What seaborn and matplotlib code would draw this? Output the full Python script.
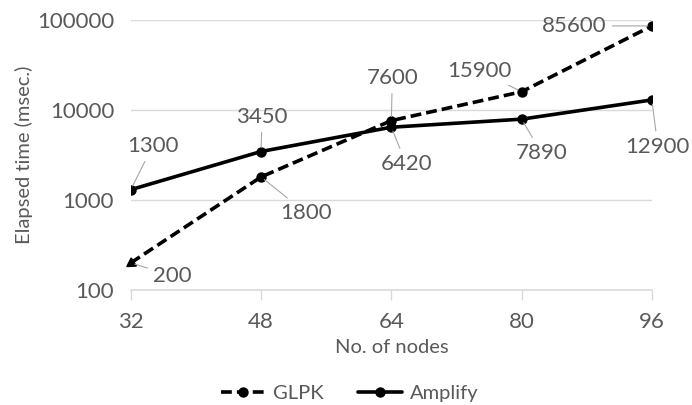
import pandas as pd
import matplotlib
matplotlib.use("Agg")
import matplotlib.pyplot as plt
import seaborn as sns

nodes = [32, 48, 64, 80, 96]
glpk = [200, 1800, 7600, 15900, 85600]
amplify = [1300, 3450, 6420, 7890, 12900]
series_names = ["GLPK", "Amplify"]

# label offsets (pixels) from each point
glpk_offsets = [(42, -13), (45, -36), (1, 43), (-42, 21), (-78, 0)]
amplify_offsets = [(22, 44), (1, 35), (15, -37), (20, -34), (6, -47)]

df = pd.DataFrame({
    "nodes": nodes * 2,
    "time": glpk + amplify,
    "solver": [series_names[0]] * len(nodes) + [series_names[1]] * len(nodes),
})

sns.set_theme(style="white")
plt.rcParams["font.family"] = ["Lato", "DejaVu Sans"]
text_color = "#595959"
grid_color = "#d9d9d9"

fig, ax = plt.subplots(figsize=(6.92, 4.05), dpi=100)
fig.subplots_adjust(left=0.189, right=0.942, top=0.951, bottom=0.284)

for y in [1000, 10000, 100000]:
    ax.axhline(y, color=grid_color, lw=1, zorder=0)

sns.lineplot(data=df, x="nodes", y="time", style="solver",
             style_order=series_names,
             dashes={"GLPK": (3, 1.4), "Amplify": ""},
             markers={"GLPK": "o", "Amplify": "o"},
             color="black", lw=2.6, markersize=7.5, markeredgewidth=0,
             ax=ax, legend=True)

ax.set_yscale("log")
ax.set_ylim(100, 100000)
ax.set_xlim(nodes[0], nodes[-1])
ax.set_xticks(nodes)
ax.set_xticklabels([str(n) for n in nodes])
ax.set_yticks([100, 1000, 10000, 100000])
ax.set_yticklabels(["100", "1000", "10000", "100000"])
ax.minorticks_off()

# first GLPK point is drawn as an arrow-like triangle
for line in ax.lines:
    if line.get_linestyle() == "--":
        line.set_markevery([1, 2, 3, 4])
ax.plot(nodes[0], glpk[0], marker=(3, 0, 123), color="black", ms=8, lw=0, clip_on=False)

for side in ["top", "right", "left"]:
    ax.spines[side].set_visible(False)
ax.spines["bottom"].set_color(grid_color)
ax.spines["bottom"].set_linewidth(1.2)
ax.tick_params(axis="x", length=7, width=1, color=grid_color, labelsize=16,
               labelcolor=text_color, pad=9, bottom=True)
ax.tick_params(axis="y", length=0, labelsize=16, labelcolor=text_color, pad=12)

ax.set_xlabel("No. of nodes", fontsize=14.5, color=text_color, labelpad=5)
ax.set_ylabel("Elapsed time (msec.)", fontsize=14.5, color=text_color, labelpad=3)

for values, offsets in [(glpk, glpk_offsets), (amplify, amplify_offsets)]:
    for x, v, (dx, dy) in zip(nodes, values, offsets):
        ax.annotate(str(v), xy=(x, v), xytext=(dx, dy), textcoords="offset pixels",
                    ha="center", va="center", fontsize=16, color=text_color,
                    arrowprops=dict(arrowstyle="-", color="#a6a6a6", lw=0.8,
                                    shrinkA=2, shrinkB=3),
                    annotation_clip=False)

handles, labels = ax.get_legend_handles_labels()
ax.legend(handles, labels, loc="upper center", bbox_to_anchor=(0.42, -0.285),
          ncol=2, frameon=False, fontsize=14.5, handlelength=2.2,
          handletextpad=0.4, columnspacing=1.7, labelcolor=text_color)

fig.savefig("out.png", dpi=100)
